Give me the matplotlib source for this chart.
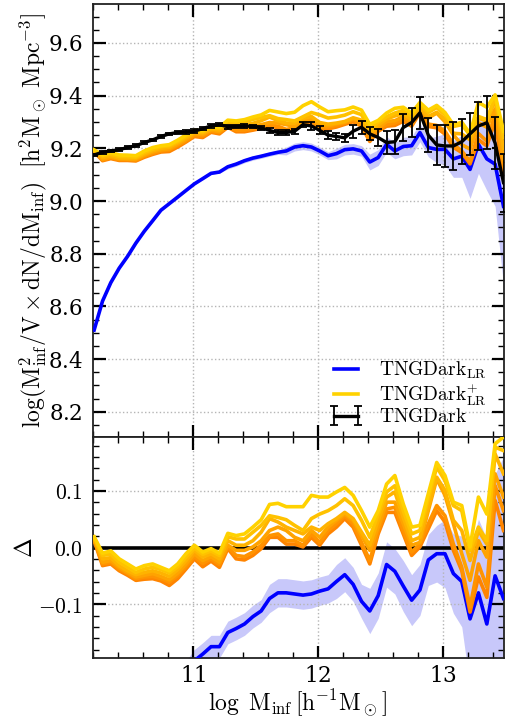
import numpy as np
import matplotlib
matplotlib.use("Agg")
import matplotlib.pyplot as plt
from matplotlib.ticker import MultipleLocator, FuncFormatter

plt.rcParams['font.family'] = 'serif'
plt.rcParams['font.serif'] = ['DejaVu Serif']
plt.rcParams['mathtext.fontset'] = 'cm'
plt.rcParams['axes.formatter.use_mathtext'] = True

# ---- data ----
logm = np.round(np.linspace(10.213, 13.48, 50), 3)

dark = [9.175, 9.185, 9.19, 9.195, 9.203, 9.21, 9.222, 9.232, 9.245, 9.255,
        9.26, 9.262, 9.265, 9.275, 9.285, 9.29, 9.282, 9.283, 9.285, 9.283,
        9.278, 9.268, 9.26, 9.26, 9.265, 9.29, 9.285, 9.268, 9.25, 9.245,
        9.24, 9.265, 9.28, 9.255, 9.241, 9.222, 9.225, 9.279, 9.298, 9.335,
        9.25, 9.213, 9.209, 9.209, 9.225, 9.255, 9.285, 9.297, 9.22, 9.07]
dark_err = [0.005] * 11 + [0.007] * 10 + [0.01] * 5 + [0.015] * 5 + \
           [0.025, 0.025, 0.025, 0.033, 0.045, 0.045, 0.05, 0.055, 0.06, 0.065,
            0.075, 0.08, 0.09, 0.085, 0.08, 0.09, 0.1, 0.1, 0.11]

lr = [8.51, 8.62, 8.69, 8.745, 8.79, 8.84, 8.885, 8.925, 8.965, 8.99,
      9.015, 9.04, 9.065, 9.085, 9.105, 9.11, 9.13, 9.14, 9.153, 9.163,
      9.17, 9.178, 9.185, 9.19, 9.205, 9.21, 9.205, 9.19, 9.172, 9.18,
      9.195, 9.198, 9.19, 9.148, 9.165, 9.215, 9.19, 9.207, 9.21, 9.26,
      9.203, 9.196, 9.196, 9.16, 9.17, 9.12, 9.215, 9.16, 9.14, 8.98]
lr_err = [0.004] * 16 + [0.008] * 7 + [0.015] * 6 + [0.02] * 4 + \
         [0.03, 0.03, 0.03, 0.03, 0.035, 0.035, 0.035, 0.035,
          0.05, 0.06, 0.07, 0.08, 0.11, 0.11, 0.12, 0.16, 0.3]

lr_delta = [-0.66, -0.56, -0.5, -0.45, -0.41, -0.37, -0.34, -0.31, -0.28, -0.265,
            -0.245, -0.22, -0.2, -0.188, -0.175, -0.175, -0.15, -0.143, -0.135, -0.122,
            -0.112, -0.09, -0.08, -0.08, -0.082, -0.084, -0.082, -0.077, -0.073, -0.06,
            -0.048, -0.065, -0.095, -0.112, -0.085, -0.03, -0.042, -0.068, -0.093, -0.075,
            -0.022, -0.011, -0.011, -0.046, -0.06, -0.126, -0.08, -0.135, -0.05, -0.09]
lr_delta_err = [0.02] * 21 + [0.025] * 8 + [0.03] * 4 + \
               [0.04, 0.04, 0.04, 0.04, 0.045, 0.045, 0.045, 0.045,
                0.05, 0.06, 0.07, 0.08, 0.12, 0.13, 0.15, 0.18, 0.25]

# TNGDark+_LR realisations: log-ratio to TNGDark (columns: gold -> dark orange)
plus_delta = np.array([
    [0.019, 0.018, 0.017, 0.015, 0.014, 0.012],
    [-0.010, -0.014, -0.020, -0.026, -0.029, -0.032],
    [-0.006, -0.012, -0.018, -0.023, -0.026, -0.029],
    [-0.020, -0.026, -0.032, -0.035, -0.038, -0.041],
    [-0.029, -0.035, -0.041, -0.044, -0.046, -0.049],
    [-0.038, -0.044, -0.048, -0.052, -0.055, -0.058],
    [-0.032, -0.038, -0.044, -0.049, -0.052, -0.056],
    [-0.029, -0.035, -0.041, -0.046, -0.051, -0.055],
    [-0.035, -0.039, -0.045, -0.051, -0.055, -0.059],
    [-0.041, -0.045, -0.051, -0.057, -0.061, -0.067],
    [-0.029, -0.034, -0.039, -0.045, -0.049, -0.055],
    [-0.011, -0.017, -0.023, -0.029, -0.034, -0.038],
    [0.004, -0.001, -0.005, -0.011, -0.016, -0.020],
    [-0.008, -0.012, -0.017, -0.023, -0.028, -0.034],
    [-0.002, -0.006, -0.011, -0.016, -0.020, -0.024],
    [-0.010, -0.014, -0.020, -0.026, -0.030, -0.035],
    [0.025, 0.019, 0.012, 0.004, 0.001, -0.002],
    [0.021, 0.015, 0.004, -0.005, -0.014, -0.020],
    [0.024, 0.015, 0.004, -0.005, -0.016, -0.022],
    [0.036, 0.027, 0.012, 0.001, -0.008, -0.014],
    [0.049, 0.039, 0.027, 0.012, 0.004, -0.002],
    [0.076, 0.056, 0.051, 0.030, 0.021, 0.018],
    [0.078, 0.053, 0.045, 0.036, 0.024, 0.018],
    [0.072, 0.049, 0.036, 0.030, 0.012, 0.006],
    [0.072, 0.039, 0.030, 0.018, 0.012, 0.006],
    [0.072, 0.030, 0.024, 0.012, 0.004, 0.001],
    [0.092, 0.051, 0.036, 0.030, 0.024, 0.018],
    [0.089, 0.059, 0.030, 0.018, 0.009, 0.004],
    [0.089, 0.065, 0.042, 0.036, 0.030, 0.024],
    [0.098, 0.074, 0.051, 0.048, 0.042, 0.036],
    [0.106, 0.086, 0.062, 0.059, 0.056, 0.051],
    [0.092, 0.074, 0.051, 0.048, 0.042, 0.036],
    [0.065, 0.048, 0.027, 0.021, 0.009, 0.004],
    [0.036, 0.018, 0.004, -0.005, -0.023, -0.029],
    [0.065, 0.059, 0.048, 0.036, 0.030, 0.024],
    [0.112, 0.098, 0.089, 0.080, 0.068, 0.062],
    [0.127, 0.109, 0.098, 0.080, 0.071, 0.062],
    [0.077, 0.065, 0.053, 0.042, 0.030, 0.024],
    [0.036, 0.024, 0.012, 0.004, -0.008, -0.014],
    [0.039, 0.030, 0.018, 0.009, 0.006, 0.001],
    [0.095, 0.086, 0.071, 0.065, 0.042, 0.033],
    [0.150, 0.142, 0.124, 0.121, 0.074, 0.065],
    [0.127, 0.118, 0.101, 0.092, 0.056, 0.045],
    [0.080, 0.074, 0.048, 0.042, 0.006, -0.005],
    [0.074, 0.065, 0.030, -0.011, -0.035, -0.041],
    [0.001, -0.005, -0.023, -0.058, -0.105, -0.114],
    [0.089, 0.036, 0.030, 0.012, -0.029, -0.052],
    [0.059, 0.012, 0.006, -0.017, -0.070, -0.088],
    [0.183, 0.177, 0.165, 0.130, 0.109, 0.083],
    [0.195, 0.171, 0.130, 0.089, 0.065, 0.030],
])

plus_colors = ['#ffd200', '#ffc200', '#ffb300', '#ffa300', '#ff9300', '#ff8400']

# ---- figure ----
W, H = 505, 723
fig = plt.figure(figsize=(W / 100, H / 100), dpi=100)
left = 92.5 / W
width = (503.5 - 92.5) / W
ax1 = fig.add_axes([left, 1 - 437 / H, width, (437 - 4) / H])
ax2 = fig.add_axes([left, 1 - 658 / H, width, (658 - 437) / H], sharex=ax1)

x = np.array(logm)
dark_a = np.array(dark)
lr_a = np.array(lr)

# top panel
ax1.fill_between(x, lr_a - np.array(lr_err), lr_a + np.array(lr_err),
                 color='#c8c8fa', lw=0, zorder=1)
ax1.plot(x, lr_a, color='#0000ff', lw=2.6, zorder=3, label=r'$\mathrm{TNGDark}_{\mathrm{LR}}$')
for i in range(plus_delta.shape[1] - 1, -1, -1):
    ax1.plot(x, dark_a + plus_delta[:, i], color=plus_colors[i], lw=2.6, zorder=4,
             label=r'$\mathrm{TNGDark}^{+}_{\mathrm{LR}}$' if i == 0 else None)
ax1.errorbar(x, dark_a, yerr=dark_err, color='black', lw=2.4, capsize=3,
             capthick=1.3, elinewidth=1.3, zorder=6, label=r'$\mathrm{TNGDark}$')

# bottom panel
lrd = np.array(lr_delta)
ax2.fill_between(x, lrd - np.array(lr_delta_err), lrd + np.array(lr_delta_err),
                 color='#c8c8fa', lw=0, zorder=1)
ax2.axhline(0.0, color='black', lw=2.6, zorder=2)
ax2.plot(x, lrd, color='#0000ff', lw=2.6, zorder=3)
for i in range(plus_delta.shape[1] - 1, -1, -1):
    ax2.plot(x, plus_delta[:, i], color=plus_colors[i], lw=2.6, zorder=4)

# axes styling
for ax in (ax1, ax2):
    ax.set_xlim(10.2, 13.48)
    ax.xaxis.set_major_locator(MultipleLocator(1))
    ax.xaxis.set_minor_locator(MultipleLocator(0.2))
    ax.tick_params(which='both', direction='in', top=True, right=True, labelsize=15.5)
    ax.tick_params(which='major', length=9, width=1.6, pad=7)
    ax.tick_params(which='minor', length=4.5, width=1.0)
    ax.grid(True, which='major', ls=':', color='#b5b5b5', lw=1.0, zorder=0)
    for s in ax.spines.values():
        s.set_linewidth(1.3)
        s.set_color('#222222')
ax2.tick_params(axis='x', which='major', pad=5)

ax1.set_ylim(8.104, 9.748)
ax1.yaxis.set_major_locator(MultipleLocator(0.2))
ax1.yaxis.set_minor_locator(MultipleLocator(0.05))
ax1.tick_params(labelbottom=False)

ax2.set_ylim(-0.195, 0.195)
ax2.yaxis.set_major_locator(MultipleLocator(0.1))
ax2.yaxis.set_minor_locator(MultipleLocator(0.02))
ax2.yaxis.set_major_formatter(FuncFormatter(
    lambda v, p: r'$%s$' % ('%.1f' % v if abs(v) > 1e-9 else '0.0')))

ax1.set_ylabel(r'$\log(\mathrm{M_{inf}^2/V \times dN/dM_{inf}})\ \ [\mathrm{h^2M_\odot\ Mpc^{-3}}]$',
               fontsize=17)
ax2.set_ylabel(r'$\Delta$', fontsize=17)
ax2.set_xlabel(r'$\log\ \mathrm{M_{inf}}\,[\mathrm{h^{-1}M_\odot}]$', fontsize=17, labelpad=1)
ax1.yaxis.set_label_coords(-0.106, 0.5)
ax2.yaxis.set_label_coords(-0.135, 0.5)

leg = ax1.legend(loc='lower right', bbox_to_anchor=(0.985, 0.0), frameon=False,
                 fontsize=14, numpoints=2, handlelength=1.8, handletextpad=0.8,
                 labelspacing=0.02, borderaxespad=0.15)

fig.savefig('out.png', dpi=100)
